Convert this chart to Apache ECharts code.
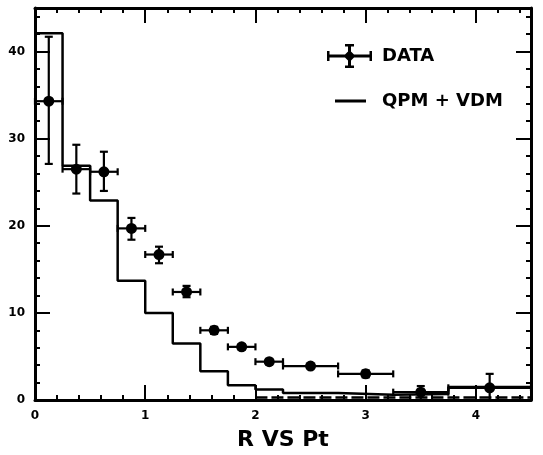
<!DOCTYPE html>
<html>
<head>
<meta charset="utf-8">
<script src="https://cdn.jsdelivr.net/npm/echarts@6/dist/echarts.min.js"></script>
<style>html,body{margin:0;padding:0;background:#fff}#c{width:543px;height:455px}</style>
</head>
<body>
<div id="c"></div>
<script>
// Histogram (QPM + VDM): left bin edges and heights
const histEdges  = [0, 0.25, 0.5, 0.75, 1.0, 1.25, 1.5, 1.75, 2.0, 2.25, 2.75, 3.25, 3.75, 4.5];
const histValues = [42.1, 26.9, 22.9, 13.7, 10.0, 6.5, 3.3, 1.7, 1.2, 0.8, 0.6, 0.7, 1.5];
// Lower (dashed) curve near zero
const lowEdges  = [2.0, 4.5];
const lowValues = [0.3];
// DATA points with error bars
const dataX  = [0.125, 0.375, 0.625, 0.875, 1.125, 1.375, 1.625, 1.875, 2.125, 2.5, 3.0, 3.5, 4.125];
const dataY  = [34.3, 26.5, 26.2, 19.7, 16.7, 12.4, 8.0, 6.1, 4.4, 3.9, 3.0, 0.9, 1.4];
const xLow   = [0, 0.25, 0.5, 0.75, 1.0, 1.25, 1.5, 1.75, 2.0, 2.25, 2.75, 3.25, 3.75];
const xHigh  = [0.25, 0.5, 0.75, 1.0, 1.25, 1.5, 1.75, 2.0, 2.25, 2.75, 3.25, 3.75, 4.5];
const yLow   = [27.1, 23.7, 24.0, 18.4, 15.7, 11.8, 7.6, 5.8, 4.1, 3.7, 2.6, 0.0, 0.0];
const yHigh  = [41.7, 29.3, 28.5, 20.9, 17.6, 13.1, 8.4, 6.4, 4.7, 4.1, 3.4, 1.6, 3.0];
// Axis ticks
const xMajor = 1, xMinor = 0.2, xMax = 4.5;
const yMajor = 10, yMinor = 2, yMax = 45;
const xTitle = 'R VS Pt';
const legendNames = ['DATA', 'QPM + VDM'];

function stepData(edges, vals) {
  const d = vals.map((v, i) => [edges[i], v]);
  d.push([edges[edges.length - 1], vals[vals.length - 1]]);
  return d;
}
const errData = dataX.map((x, i) => [x, dataY[i], xLow[i], xHigh[i], yLow[i], yHigh[i]]);

const bold = {fontFamily: 'DejaVu Sans', fontWeight: 'bold', color: '#000'};
const black = '#000';

function xAx(pos, interval, len, labels, line) {
  const a = {
    type: 'value', min: 0, max: xMax, interval: interval, position: pos,
    splitLine: {show: false},
    axisLine: {show: line, onZero: false, lineStyle: {color: black, width: 3}},
    axisTick: {show: true, inside: true, length: len, lineStyle: {color: black, width: 2}},
    axisLabel: {show: labels, margin: 10, fontSize: 12, ...bold,
      formatter: v => (Math.abs(v - Math.round(v)) < 1e-9 && v < xMax) ? String(Math.round(v)) : ''}
  };
  if (labels) {
    a.name = xTitle; a.nameLocation = 'middle'; a.nameGap = 29;
    a.nameTextStyle = {fontSize: 22, ...bold};
  }
  return a;
}
function yAx(pos, interval, len, labels, line) {
  return {
    type: 'value', min: 0, max: yMax, interval: interval, position: pos,
    splitLine: {show: false},
    axisLine: {show: line, onZero: false, lineStyle: {color: black, width: 3}},
    axisTick: {show: true, inside: true, length: len, lineStyle: {color: black, width: 2}},
    axisLabel: {show: labels, margin: 10, fontSize: 12, ...bold,
      formatter: v => (v % 10 === 0) ? String(v) : ''}
  };
}

const crossIcon = 'path://M0,10.5H45V13.5H0Z M21,0H24V24H21Z M0,7H2.5V17H0Z M42.5,7H45V17H42.5Z M18,0H27V2.5H18Z M18,21.5H27V24H18Z M22.5,6L28.5,12L22.5,18L16.5,12Z';
const lineIcon = 'path://M0,0h0.01v0.01z M44.99,23.99h0.01v0.01z M8,10.5H39V13.5H8Z';

const chart = echarts.init(document.getElementById('c'), null, {renderer: 'canvas'});
chart.setOption({
  animation: false,
  backgroundColor: '#fff',
  color: [black],
  grid: {left: 35, right: 12, top: 8, bottom: 55, containLabel: false, outerBoundsMode: 'none'},
  legend: {
    orient: 'vertical', left: 322, top: 39, itemWidth: 45, itemHeight: 24, itemGap: 21,
    selectedMode: false,
    textStyle: {fontSize: 18, ...bold, padding: [0, 0, 0, 5]},
    data: [{name: legendNames[0], icon: crossIcon}, {name: legendNames[1], icon: lineIcon}]
  },
  xAxis: [
    xAx('bottom', xMajor, 15, true, true),
    xAx('bottom', xMinor, 5, false, false),
    xAx('top', xMajor, 15, false, true),
    xAx('top', xMinor, 5, false, false)
  ],
  yAxis: [
    yAx('left', yMajor, 15, true, true),
    yAx('left', yMinor, 5, false, false),
    yAx('right', yMajor, 15, false, true),
    yAx('right', yMinor, 5, false, false)
  ],
  series: [
    {
      name: legendNames[1], type: 'line', step: 'end', showSymbol: false,
      xAxisIndex: 0, yAxisIndex: 0,
      lineStyle: {color: black, width: 2.5}, itemStyle: {color: black},
      data: stepData(histEdges, histValues)
    },
    {
      name: 'low', type: 'line', step: 'end', showSymbol: false,
      xAxisIndex: 0, yAxisIndex: 0,
      lineStyle: {color: black, width: 2.5, type: [12, 4]},
      data: stepData(lowEdges, lowValues)
    },
    {
      name: legendNames[0], type: 'custom', xAxisIndex: 0, yAxisIndex: 0,
      itemStyle: {color: black},
      data: errData,
      renderItem: function (params, api) {
        const x = api.value(0), y = api.value(1);
        const c = api.coord([x, y]);
        const l = api.coord([api.value(2), y]);
        const r = api.coord([api.value(3), y]);
        const t = api.coord([x, api.value(5)]);
        const b = api.coord([x, api.value(4)]);
        const st = {stroke: black, lineWidth: 2.2};
        const ch = [
          {type: 'line', shape: {x1: l[0], y1: c[1], x2: r[0], y2: c[1]}, style: st},
          {type: 'line', shape: {x1: c[0], y1: t[1], x2: c[0], y2: b[1]}, style: st},
          {type: 'line', shape: {x1: l[0], y1: c[1] - 3.5, x2: l[0], y2: c[1] + 3.5}, style: st},
          {type: 'line', shape: {x1: r[0], y1: c[1] - 3.5, x2: r[0], y2: c[1] + 3.5}, style: st},
          {type: 'line', shape: {x1: c[0] - 4, y1: t[1], x2: c[0] + 4, y2: t[1]}, style: st},
          {type: 'circle', shape: {cx: c[0], cy: c[1], r: 5.5}, style: {fill: black}}
        ];
        if (api.value(4) > 0) {
          ch.push({type: 'line', shape: {x1: c[0] - 4, y1: b[1], x2: c[0] + 4, y2: b[1]}, style: st});
        }
        return {type: 'group', children: ch};
      }
    }
  ]
});
</script>
</body>
</html>
